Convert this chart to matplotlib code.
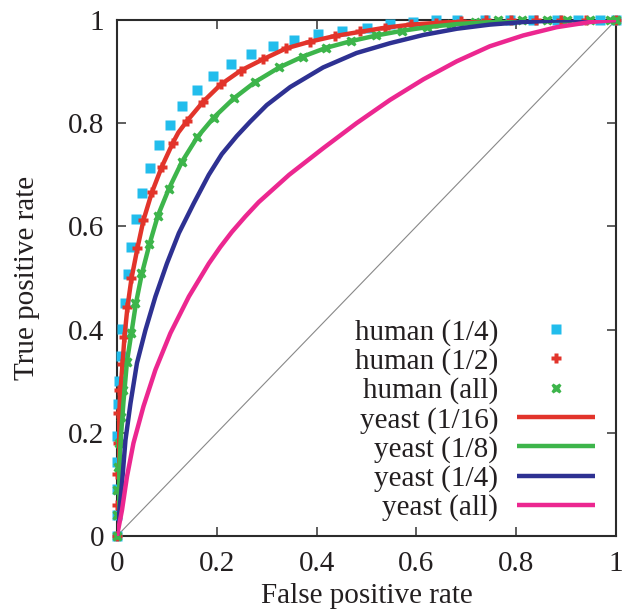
import matplotlib
matplotlib.use("Agg")
import matplotlib.pyplot as plt

plt.rcParams['font.family'] = ['Liberation Serif', 'DejaVu Serif']

# ROC points, human datasets (scatter series)
human_quarter_fpr = [0, 0, 0, 0, 0, 0.002, 0.005, 0.009, 0.010, 0.017, 0.022, 0.029, 0.038, 0.050,
                     0.067, 0.084, 0.106, 0.130, 0.160, 0.192, 0.228, 0.269, 0.313, 0.355, 0.403,
                     0.451, 0.500, 0.548, 0.594, 0.640, 0.681, 0.737, 0.788, 0.834, 0.882, 0.924,
                     0.968, 1.0]
human_quarter_tpr = [0, 0.040, 0.092, 0.144, 0.194, 0.256, 0.300, 0.348, 0.401, 0.452, 0.508, 0.561,
                     0.614, 0.664, 0.713, 0.758, 0.797, 0.833, 0.864, 0.891, 0.915, 0.934, 0.950,
                     0.962, 0.973, 0.979, 0.985, 0.992, 0.997, 1.0, 1.0, 1.0, 1.0, 1.0, 1.0, 1.0,
                     1.0, 1.0]

human_half_fpr = [0, 0.001, 0.001, 0.002, 0.003, 0.005, 0.011, 0.014, 0.021, 0.029, 0.041, 0.053,
                  0.070, 0.090, 0.112, 0.141, 0.173, 0.208, 0.248, 0.293, 0.339, 0.387, 0.437,
                  0.487, 0.537, 0.589, 0.64, 0.69, 0.74, 0.79, 0.84, 0.89, 0.94, 1.0]
human_half_tpr = [0, 0.06, 0.12, 0.18, 0.238, 0.283, 0.333, 0.386, 0.444, 0.499, 0.558, 0.612,
                  0.666, 0.716, 0.762, 0.805, 0.842, 0.875, 0.902, 0.924, 0.946, 0.957, 0.968,
                  0.978, 0.985, 0.992, 0.995, 0.998, 0.999, 1.0, 1.0, 1.0, 1.0, 1.0]

human_all_fpr = [0, 0, 0.001, 0.002, 0.004, 0.008, 0.013, 0.020, 0.029, 0.037, 0.049, 0.065,
                 0.082, 0.104, 0.130, 0.161, 0.194, 0.234, 0.277, 0.325, 0.373, 0.418, 0.468,
                 0.520, 0.571, 0.621, 0.670, 0.718, 0.764, 0.812, 0.862, 0.902, 0.948, 0.988, 1.0]
human_all_tpr = [0, 0.041, 0.09, 0.134, 0.18, 0.23, 0.283, 0.338, 0.394, 0.451, 0.509, 0.566,
                 0.621, 0.673, 0.725, 0.773, 0.811, 0.848, 0.880, 0.908, 0.928, 0.946, 0.959,
                 0.970, 0.979, 0.986, 0.992, 0.996, 0.999, 1.0, 1.0, 1.0, 1.0, 1.0, 1.0]

# ROC curves, yeast datasets (line series)
yeast_16_fpr = [0, 0.001, 0.003, 0.006, 0.011, 0.015, 0.021, 0.029, 0.041, 0.053, 0.070, 0.090,
                0.112, 0.123, 0.141, 0.173, 0.208, 0.248, 0.293, 0.339, 0.387, 0.437, 0.487,
                0.537, 0.59, 0.65, 0.72, 0.80, 0.90, 1.0]
yeast_16_tpr = [0, 0.10, 0.20, 0.27, 0.333, 0.386, 0.444, 0.499, 0.558, 0.612, 0.666, 0.716,
                0.762, 0.782, 0.805, 0.842, 0.875, 0.902, 0.924, 0.945, 0.958, 0.969, 0.977,
                0.985, 0.991, 0.995, 0.998, 0.999, 1.0, 1.0]

yeast_8_fpr = [0, 0.003, 0.007, 0.013, 0.020, 0.029, 0.038, 0.050, 0.065, 0.082, 0.104, 0.130,
               0.161, 0.194, 0.234, 0.277, 0.325, 0.372, 0.419, 0.469, 0.520, 0.571, 0.621,
               0.68, 0.75, 0.85, 1.0]
yeast_8_tpr = [0, 0.10, 0.18, 0.26, 0.338, 0.394, 0.451, 0.509, 0.565, 0.621, 0.673, 0.725,
               0.773, 0.811, 0.848, 0.880, 0.908, 0.929, 0.946, 0.959, 0.970, 0.979, 0.986,
               0.992, 0.996, 0.999, 1.0]

yeast_4_fpr = [0, 0.003, 0.010, 0.017, 0.027, 0.040, 0.057, 0.077, 0.100, 0.124, 0.154, 0.184,
               0.210, 0.240, 0.267, 0.300, 0.347, 0.413, 0.480, 0.547, 0.614, 0.681, 0.747,
               0.814, 0.881, 0.95, 1.0]
yeast_4_tpr = [0, 0.03, 0.102, 0.186, 0.257, 0.335, 0.399, 0.464, 0.528, 0.587, 0.645, 0.700,
               0.740, 0.775, 0.803, 0.835, 0.870, 0.908, 0.936, 0.955, 0.971, 0.983, 0.991,
               0.996, 0.999, 1.0, 1.0]

yeast_all_fpr = [0, 0.010, 0.020, 0.033, 0.053, 0.077, 0.107, 0.144, 0.184, 0.207, 0.230, 0.257,
                 0.284, 0.345, 0.414, 0.480, 0.547, 0.614, 0.681, 0.747, 0.814, 0.881, 0.948, 1.0]
yeast_all_tpr = [0, 0.050, 0.115, 0.180, 0.251, 0.322, 0.393, 0.464, 0.528, 0.560, 0.589, 0.619,
                 0.647, 0.700, 0.752, 0.800, 0.845, 0.885, 0.920, 0.949, 0.970, 0.986, 0.996, 1.0]

labels = ["human (1/4)", "human (1/2)", "human (all)",
          "yeast (1/16)", "yeast (1/8)", "yeast (1/4)", "yeast (all)"]
ticks = [0, 0.2, 0.4, 0.6, 0.8, 1]
tick_labels = ["0", "0.2", "0.4", "0.6", "0.8", "1"]

CYAN = "#22bdec"
RED = "#e2342b"
GREEN = "#3db54b"
BLUE = "#2e3192"
PINK = "#ec2790"
TEXT = "#231f20"
FS = 21

fig = plt.figure(figsize=(6.27, 6.09), dpi=100)
ax = fig.add_axes([0.1866, 0.1199, 0.7959, 0.8473])

# chance diagonal
ax.plot([0, 1], [0, 1], color="#888888", lw=0.8, zorder=1)

pt_styles = [
    dict(marker="s", ms=7.0, color=CYAN, mec="none", ls="none"),
    dict(marker="P", ms=7.5, color=RED, mec="none", ls="none"),
    dict(marker="X", ms=7.5, color=GREEN, mec="none", ls="none"),
]
ln_styles = [
    dict(color=RED, lw=3.2),
    dict(color=GREEN, lw=3.2),
    dict(color=BLUE, lw=3.2),
    dict(color=PINK, lw=3.2),
]

ax.plot(human_quarter_fpr, human_quarter_tpr, clip_on=False, zorder=3, **pt_styles[0])
ax.plot(human_half_fpr, human_half_tpr, clip_on=False, zorder=3, **pt_styles[1])
ax.plot(human_all_fpr, human_all_tpr, clip_on=False, zorder=3, **pt_styles[2])
ax.plot(yeast_16_fpr, yeast_16_tpr, zorder=4, solid_capstyle="butt", **ln_styles[0])
ax.plot(yeast_8_fpr, yeast_8_tpr, zorder=4, solid_capstyle="butt", **ln_styles[1])
ax.plot(yeast_4_fpr, yeast_4_tpr, zorder=4, solid_capstyle="butt", **ln_styles[2])
ax.plot(yeast_all_fpr, yeast_all_tpr, zorder=4, solid_capstyle="butt", **ln_styles[3])

# key: right-aligned labels with samples to their right
tr = ax.transAxes
y0, dy = 0.4012, 0.0568
for i, lab in enumerate(labels):
    y = y0 - i * dy
    ax.text(0.7635, y, lab, transform=tr, ha="right", va="center_baseline",
            fontsize=FS, color=TEXT)
    if i < 3:
        ax.plot([0.8798], [y], transform=tr, **pt_styles[i])
    else:
        ax.plot([0.8016, 0.958], [y, y], transform=tr, solid_capstyle="butt",
                **ln_styles[i - 3])

ax.set_xlim(0, 1)
ax.set_ylim(0, 1)
ax.set_xticks(ticks)
ax.set_yticks(ticks)
ax.set_xticklabels(tick_labels)
ax.set_yticklabels(tick_labels)
ax.tick_params(direction="in", length=6.5, width=1.1, color="#333333",
               top=True, right=True, labelsize=FS, labelcolor=TEXT)
ax.tick_params(axis="x", pad=11)
ax.tick_params(axis="y", pad=9)
for s in ax.spines.values():
    s.set_linewidth(1.5)
    s.set_color("#2b2b2b")

ax.set_xlabel("False positive rate", fontsize=FS, color=TEXT, labelpad=4)
ax.set_ylabel("True positive rate", fontsize=FS, color=TEXT, labelpad=20)

fig.savefig("out.png", dpi=100)
